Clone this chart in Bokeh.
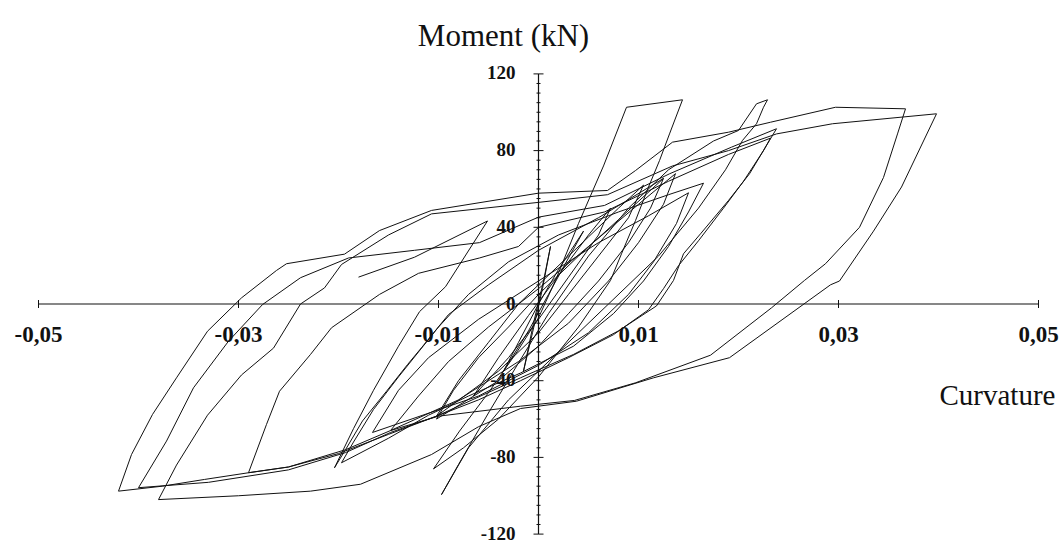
from bokeh.plotting import figure
from bokeh.models import Range1d, ColumnDataSource
from bokeh.core.properties import value
from bokeh.embed import file_html
from bokeh.resources import INLINE

# ---- axis ticks and labels ----
x_major = [-0.05, -0.03, -0.01, 0.01, 0.03, 0.05]
x_labels = ["-0,05", "-0,03", "-0,01", "0,01", "0,03", "0,05"]
y_major = [120, 80, 40, 0, -40, -80, -120]
y_labels = ["120", "80", "40", "0", "-40", "-80", "-120"]
y_minor = [v for v in range(-115, 120, 5) if v % 40 != 0]

# ---- moment-curvature loops (curvature, moment in kN) ----
loop_a_curv = [0.0398, 0.0363, 0.0335, 0.0301, 0.0292, 0.0191, 0.0115, 0.0038, -0.0018, -0.0060, -0.0107,
               -0.0178, -0.0228, -0.0300, -0.0380, -0.0362, -0.0331, -0.0297, -0.0265, -0.0238, -0.0214,
               -0.0197, -0.0150, -0.0107, 0.0000, 0.0069, 0.0134, 0.0190, 0.0238, 0.0294, 0.0398]
loop_a_mom = [99.2, 61, 38, 12, 10, -28, -38.5, -50.7, -54.5, -64, -78.5,
              -94, -97.6, -100, -102, -84, -58, -37, -23, 0, 8.4,
              20.6, 36, 47, 53, 57, 72, 80, 88.7, 94, 99.2]

loop_b_curv = [0.0367, 0.0359, 0.0345, 0.0321, 0.0287, 0.0266, 0.0233, 0.0172, 0.0097, 0.0036, -0.0018,
               -0.0100, -0.0148, -0.0193, -0.0250, -0.0290, -0.0334, -0.0376, -0.0420, -0.0407, -0.0386,
               -0.0362, -0.0331, -0.0297, -0.0262, -0.0252, -0.0194, -0.0159, -0.0107, 0.0000, 0.0069,
               0.0097, 0.0134, 0.0190, 0.0232, 0.0297, 0.0367]
loop_b_mom = [101.8, 88.7, 66, 40, 21, 12.3, -2, -26.7, -41.1, -50.3, -53.3,
              -58.5, -66, -76, -85, -88, -91.5, -95, -97.6, -78.5, -57.6,
              -38.5, -14.2, 3.2, 17.5, 21, 26, 38.3, 48.8, 57.8, 59.2,
              69.6, 84.4, 89.6, 94.8, 102.6, 101.8]

loop_c_curv = [0.0238, 0.0231, 0.0211, 0.0190, 0.0162, 0.0145, 0.0135, 0.0118, 0.0080, 0.0035, -0.0018,
               -0.0102, -0.0148, -0.0193, -0.0250, -0.0330, -0.0400, -0.0372, -0.0345, -0.0310, -0.0276,
               -0.0238, -0.0190, -0.0124, -0.0059, 0.0000, 0.0066, 0.0131, 0.0193, 0.0238]
loop_c_mom = [91.4, 85.3, 67.9, 54, 36.6, 26.2, 12.3, -1, -14, -26.3, -38.5,
              -58.5, -67, -77.5, -86.5, -93, -95.8, -71.5, -43.7, -19.4, -0.3,
              13.7, 24, 28, 32, 45.3, 51.4, 67.9, 81.8, 91.4]

loop_d_curv = [0.0232, 0.0225, 0.0205, 0.0185, 0.0160, 0.0140, 0.0125, 0.0110, 0.0075, 0.0030, -0.0018,
               -0.0060, -0.0102, -0.0150, -0.0200, -0.0250, -0.0290, -0.0272, -0.0259, -0.0228, -0.0207,
               -0.0159, -0.0120, -0.0059, -0.0020, 0.0000, 0.0066, 0.0130, 0.0190, 0.0232]
loop_d_mom = [86.5, 80, 64, 50, 33, 20, 8, -3, -16, -28, -40,
              -50, -58.5, -68, -78, -85, -88, -62.8, -45.5, -26.3, -12.4,
              5, 16, 24, 30, 40, 48, 64, 78, 86.5]

loop_e_curv = [0.0165, 0.0150, 0.0130, 0.0105, 0.0075, 0.0035, -0.0018, -0.0070, -0.0110, -0.0150, -0.0197,
               -0.0185, -0.0165, -0.0140, -0.0120, -0.0100, -0.0070, -0.0030, 0.0020, 0.0080, 0.0130,
               0.0165]
loop_e_mom = [63, 48, 30, 12, -5, -22, -36, -48, -58, -70, -82.8,
              -72, -55, -38, -25, -12, 5, 22, 36, 48, 57,
              63]

loop_p_curv = [0.0144, 0.0131, 0.0121, 0.0110, 0.0097, 0.0083, 0.0072, 0.0040, 0.0000, -0.0040, -0.0075,
               -0.0105, -0.0079, -0.0049, -0.0021, 0.0000, 0.0017, 0.0040, 0.0065, 0.0088, 0.0144]
loop_p_mom = [106.5, 88.7, 74.8, 61, 43.5, 26.2, 12.3, -12, -38, -60, -75,
              -86, -66.3, -45.5, -24.6, -7.2, 12.3, 42, 72, 102.6, 106.5]

loop_q_curv = [0.0229, 0.0225, 0.0218, 0.0204, 0.0187, 0.0160, 0.0120, 0.0070, 0.0020, -0.0030, -0.0070,
               -0.0097, -0.0080, -0.0049, -0.0021, 0.0010, 0.0050, 0.0090, 0.0130, 0.0175, 0.0200,
               0.0218, 0.0229]
loop_q_mom = [106.5, 102.6, 94, 85.3, 70, 50, 25, 0, -25, -50, -75,
              -99.4, -83.7, -55.9, -31.6, -5, 25, 50, 70, 85, 90.5,
              104.4, 106.5]

loop_l_curv = [-0.0180, -0.0124, -0.0051, -0.0093, -0.0119, -0.0140, -0.0165, -0.0185, -0.0204, -0.0193,
               -0.0176, -0.0152, -0.0131, -0.0117, -0.0090, -0.0050, 0.0000, 0.0060, 0.0125]
loop_l_mom = [14, 24.4, 43.3, 9, -4, -22, -45, -65, -85.4, -76,
              -61, -45.5, -31.6, -22.8, -5.5, 10, 28, 45, 65.5]

loop_s1_curv = [-0.0015, -0.0005, 0.0005, 0.0012, 0.0004, -0.0006, -0.0015]
loop_s1_mom = [-35, -10, 12, 30, 8, -15, -35]

loop_s2_curv = [-0.0035, -0.0020, 0.0000, 0.0020, 0.0045, 0.0030, 0.0010, -0.0010, -0.0035]
loop_s2_mom = [-35, -20, 0, 18, 38, 24, 5, -14, -35]

loop_s3_curv = [-0.0065, -0.0040, -0.0010, 0.0020, 0.0050, 0.0072, 0.0060, 0.0030, 0.0000, -0.0030, -0.0065]
loop_s3_mom = [-48, -28, -6, 15, 36, 50, 36, 14, -8, -28, -48]

loop_s4_curv = [-0.0102, -0.0080, -0.0050, -0.0020, 0.0010, 0.0050, 0.0080, 0.0105, 0.0090, 0.0060, 0.0030,
                0.0000, -0.0040, -0.0102]
loop_s4_mom = [-58.5, -40, -20, 0, 15, 35, 50, 62, 45, 25, 5, -15, -35, -58.5]

loop_s5_curv = [-0.0102, -0.0085, -0.0060, -0.0030, 0.0000, 0.0040, 0.0080, 0.0125, 0.0112, 0.0090, 0.0060,
                0.0030, 0.0000, -0.0040, -0.0102]
loop_s5_mom = [-60, -45, -28, -12, 5, 25, 44, 65.5, 50, 32, 12, -5, -22, -40, -60]

loop_s6_curv = [-0.0148, -0.0120, -0.0090, -0.0050, 0.0000, 0.0050, 0.0100, 0.0137, 0.0125, 0.0100, 0.0070,
                0.0030, -0.0020, -0.0080, -0.0148]
loop_s6_mom = [-66, -48, -30, -12, 8, 30, 52, 68, 52, 32, 12, -10, -30, -50, -66]

loop_s7_curv = [-0.0166, -0.0140, -0.0110, -0.0060, 0.0000, 0.0060, 0.0110, 0.0150, 0.0138, 0.0115, 0.0090,
                0.0050, 0.0000, -0.0060, -0.0166]
loop_s7_mom = [-67, -45, -28, -8, 12, 32, 46, 58, 42, 22, 5, -15, -32, -48, -67]

loops = [
    (loop_a_curv, loop_a_mom), (loop_b_curv, loop_b_mom), (loop_c_curv, loop_c_mom),
    (loop_d_curv, loop_d_mom), (loop_e_curv, loop_e_mom), (loop_p_curv, loop_p_mom),
    (loop_q_curv, loop_q_mom), (loop_l_curv, loop_l_mom), (loop_s1_curv, loop_s1_mom),
    (loop_s2_curv, loop_s2_mom), (loop_s3_curv, loop_s3_mom), (loop_s4_curv, loop_s4_mom),
    (loop_s5_curv, loop_s5_mom), (loop_s6_curv, loop_s6_mom), (loop_s7_curv, loop_s7_mom),
]

W, H = 1062, 544
PX_PER_CURV = 10000.0      # pixels per unit of curvature
PX_PER_KN = 1.9175         # pixels per kN
X0_PX, Y0_PX = 538.0, 303.5

x_start = -X0_PX / PX_PER_CURV
y_end = Y0_PX / PX_PER_KN
p = figure(width=W, height=H, output_backend="svg", toolbar_location=None,
           x_range=Range1d(x_start, x_start + W / PX_PER_CURV),
           y_range=Range1d(y_end - H / PX_PER_KN, y_end),
           min_border=0, x_axis_type=None, y_axis_type=None)
p.outline_line_color = None
p.xgrid.visible = False
p.ygrid.visible = False
p.background_fill_color = "white"
p.border_fill_color = "white"

ink = "#111111"

# hysteresis curves
p.multi_line(xs=[c for c, _ in loops], ys=[m for _, m in loops], line_color=ink, line_width=1)

# axes drawn through the origin
p.segment(x0=[-0.05], y0=[0], x1=[0.05], y1=[0], line_color=ink, line_width=1.2)
p.segment(x0=[0], y0=[-120], x1=[0], y1=[120], line_color=ink, line_width=1.2)

tx = 4.0 / PX_PER_KN
p.segment(x0=x_major, y0=[-tx] * len(x_major), x1=x_major, y1=[tx] * len(x_major),
          line_color=ink, line_width=1)
ty = 5.0 / PX_PER_CURV
p.segment(x0=[-ty] * len(y_major), y0=y_major, x1=[ty] * len(y_major), y1=y_major,
          line_color=ink, line_width=1)
tm = 2.0 / PX_PER_CURV
p.segment(x0=[-tm] * len(y_minor), y0=y_minor, x1=[tm] * len(y_minor), y1=y_minor,
          line_color=ink, line_width=1)

serif = value("Liberation Serif")

xl = ColumnDataSource(dict(x=x_major, y=[-30.5 / PX_PER_KN] * len(x_major), t=x_labels))
p.text(x="x", y="y", text="t", source=xl, text_font=serif, text_font_size="23px",
       text_font_style="bold", text_align="center", text_baseline="middle", text_color=ink)

yl = ColumnDataSource(dict(x=[-23.0 / PX_PER_CURV] * len(y_major),
                           y=[v + 1.0 / PX_PER_KN for v in y_major], t=y_labels))
p.text(x="x", y="y", text="t", source=yl, text_font=serif, text_font_size="19px",
       text_font_style="bold", text_align="right", text_baseline="middle", text_color=ink)

p.text(x=[(503 - X0_PX) / PX_PER_CURV], y=[(Y0_PX - 35) / PX_PER_KN], text=["Moment (kN)"],
       text_font=serif, text_font_size="31px", text_align="center", text_baseline="alphabetic",
       text_color=ink)
p.text(x=[(939 - X0_PX) / PX_PER_CURV], y=[(Y0_PX - 394) / PX_PER_KN], text=["Curvature"],
       text_font=serif, text_font_size="29px", text_align="left", text_baseline="alphabetic",
       text_color=ink)

open("out.html", "w").write(file_html(p, INLINE))
